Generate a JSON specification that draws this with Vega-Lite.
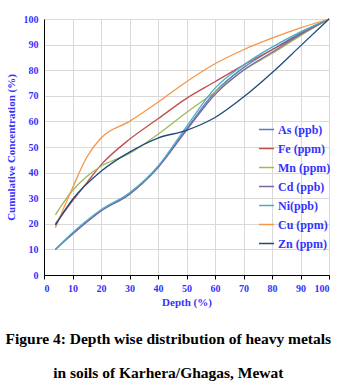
{
  "$schema": "https://vega.github.io/schema/vega-lite/v6.json",
  "width": 285,
  "height": 256,
  "autosize": {"type": "none"},
  "padding": {"left": 44, "top": 19, "right": 27, "bottom": 113},
  "background": "white",
  "title": {
    "text": ["Figure 4: Depth wise distribution  of heavy metals", "in soils of Karhera/Ghagas, Mewat"],
    "orient": "bottom",
    "anchor": "middle",
    "frame": "bounds",
    "font": "Liberation Serif",
    "fontSize": 15.5,
    "fontWeight": "bold",
    "color": "black",
    "lineHeight": 34,
    "offset": 25
  },
  "datasets": {
    "metals": [
      {"metal": "As (ppb)", "depth": 4, "conc": 10},
      {"metal": "As (ppb)", "depth": 10, "conc": 16},
      {"metal": "As (ppb)", "depth": 20, "conc": 25},
      {"metal": "As (ppb)", "depth": 30, "conc": 32},
      {"metal": "As (ppb)", "depth": 40, "conc": 42},
      {"metal": "As (ppb)", "depth": 50, "conc": 57},
      {"metal": "As (ppb)", "depth": 60, "conc": 71.5},
      {"metal": "As (ppb)", "depth": 70, "conc": 81},
      {"metal": "As (ppb)", "depth": 80, "conc": 88},
      {"metal": "As (ppb)", "depth": 90, "conc": 94.5},
      {"metal": "As (ppb)", "depth": 100, "conc": 100},
      {"metal": "Fe (ppm)", "depth": 4, "conc": 20},
      {"metal": "Fe (ppm)", "depth": 10, "conc": 29},
      {"metal": "Fe (ppm)", "depth": 15, "conc": 36},
      {"metal": "Fe (ppm)", "depth": 20, "conc": 43},
      {"metal": "Fe (ppm)", "depth": 30, "conc": 53},
      {"metal": "Fe (ppm)", "depth": 40, "conc": 61},
      {"metal": "Fe (ppm)", "depth": 50, "conc": 69},
      {"metal": "Fe (ppm)", "depth": 60, "conc": 75.5},
      {"metal": "Fe (ppm)", "depth": 70, "conc": 82},
      {"metal": "Fe (ppm)", "depth": 80, "conc": 88},
      {"metal": "Fe (ppm)", "depth": 90, "conc": 94},
      {"metal": "Fe (ppm)", "depth": 100, "conc": 100},
      {"metal": "Mn (ppm)", "depth": 4, "conc": 23.5},
      {"metal": "Mn (ppm)", "depth": 10, "conc": 33},
      {"metal": "Mn (ppm)", "depth": 15, "conc": 38.5},
      {"metal": "Mn (ppm)", "depth": 20, "conc": 42.5},
      {"metal": "Mn (ppm)", "depth": 30, "conc": 47.5},
      {"metal": "Mn (ppm)", "depth": 40, "conc": 55},
      {"metal": "Mn (ppm)", "depth": 50, "conc": 63.5},
      {"metal": "Mn (ppm)", "depth": 60, "conc": 71.5},
      {"metal": "Mn (ppm)", "depth": 70, "conc": 80},
      {"metal": "Mn (ppm)", "depth": 80, "conc": 86.5},
      {"metal": "Mn (ppm)", "depth": 90, "conc": 93.5},
      {"metal": "Mn (ppm)", "depth": 100, "conc": 100},
      {"metal": "Cd (ppb)", "depth": 4, "conc": 10},
      {"metal": "Cd (ppb)", "depth": 10, "conc": 16},
      {"metal": "Cd (ppb)", "depth": 20, "conc": 25},
      {"metal": "Cd (ppb)", "depth": 30, "conc": 31.5},
      {"metal": "Cd (ppb)", "depth": 40, "conc": 42},
      {"metal": "Cd (ppb)", "depth": 50, "conc": 56.5},
      {"metal": "Cd (ppb)", "depth": 60, "conc": 70.5},
      {"metal": "Cd (ppb)", "depth": 70, "conc": 80},
      {"metal": "Cd (ppb)", "depth": 80, "conc": 87},
      {"metal": "Cd (ppb)", "depth": 90, "conc": 94},
      {"metal": "Cd (ppb)", "depth": 100, "conc": 100},
      {"metal": "Ni(ppb)", "depth": 4, "conc": 10},
      {"metal": "Ni(ppb)", "depth": 10, "conc": 16.5},
      {"metal": "Ni(ppb)", "depth": 20, "conc": 25.5},
      {"metal": "Ni(ppb)", "depth": 30, "conc": 32},
      {"metal": "Ni(ppb)", "depth": 40, "conc": 42.5},
      {"metal": "Ni(ppb)", "depth": 50, "conc": 58},
      {"metal": "Ni(ppb)", "depth": 60, "conc": 73},
      {"metal": "Ni(ppb)", "depth": 70, "conc": 82},
      {"metal": "Ni(ppb)", "depth": 80, "conc": 89},
      {"metal": "Ni(ppb)", "depth": 90, "conc": 95},
      {"metal": "Ni(ppb)", "depth": 100, "conc": 100},
      {"metal": "Cu (ppm)", "depth": 4, "conc": 18.5},
      {"metal": "Cu (ppm)", "depth": 10, "conc": 34},
      {"metal": "Cu (ppm)", "depth": 15, "conc": 46},
      {"metal": "Cu (ppm)", "depth": 20, "conc": 53.5},
      {"metal": "Cu (ppm)", "depth": 30, "conc": 60},
      {"metal": "Cu (ppm)", "depth": 40, "conc": 67.5},
      {"metal": "Cu (ppm)", "depth": 50, "conc": 75.5},
      {"metal": "Cu (ppm)", "depth": 60, "conc": 82.5},
      {"metal": "Cu (ppm)", "depth": 70, "conc": 88},
      {"metal": "Cu (ppm)", "depth": 80, "conc": 92.5},
      {"metal": "Cu (ppm)", "depth": 90, "conc": 96.5},
      {"metal": "Cu (ppm)", "depth": 100, "conc": 100},
      {"metal": "Zn (ppm)", "depth": 4, "conc": 19.5},
      {"metal": "Zn (ppm)", "depth": 10, "conc": 29.5},
      {"metal": "Zn (ppm)", "depth": 20, "conc": 40.5},
      {"metal": "Zn (ppm)", "depth": 30, "conc": 48},
      {"metal": "Zn (ppm)", "depth": 40, "conc": 53.5},
      {"metal": "Zn (ppm)", "depth": 50, "conc": 56.5},
      {"metal": "Zn (ppm)", "depth": 60, "conc": 61.5},
      {"metal": "Zn (ppm)", "depth": 70, "conc": 69.5},
      {"metal": "Zn (ppm)", "depth": 80, "conc": 79},
      {"metal": "Zn (ppm)", "depth": 90, "conc": 89.5},
      {"metal": "Zn (ppm)", "depth": 100, "conc": 100}
    ]
  },
  "data": {"name": "metals"},
  "mark": {"type": "line", "interpolate": "monotone", "strokeWidth": 1.3},
  "encoding": {
    "x": {
      "field": "depth", "type": "quantitative", "title": "Depth (%)",
      "scale": {"domain": [0, 100], "nice": false},
      "axis": {"values": [0,10,20,30,40,50,60,70,80,90,100], "tickSize": 4, "labelPadding": 4, "titlePadding": 3}
    },
    "y": {
      "field": "conc", "type": "quantitative", "title": "Cumulative Concentration (%)",
      "scale": {"domain": [0, 100], "nice": false},
      "axis": {"values": [0,10,20,30,40,50,60,70,80,90,100], "tickSize": 0, "labelPadding": 6, "titlePadding": 7}
    },
    "color": {
      "field": "metal", "type": "nominal", "title": null,
      "scale": {
        "domain": ["As (ppb)", "Fe (ppm)", "Mn (ppm)", "Cd (ppb)", "Ni(ppb)", "Cu (ppm)", "Zn (ppm)"],
        "range": ["#4F81BD", "#C0504D", "#9BBB59", "#8064A2", "#4BACC6", "#F79646", "#1F497D"]
      },
      "legend": {
        "orient": "none", "legendX": 214, "legendY": 102,
        "symbolType": "stroke", "symbolSize": 225, "symbolStrokeWidth": 1.5,
        "rowPadding": 4, "labelOffset": 3
      }
    }
  },
  "config": {
    "view": {"stroke": null},
    "axis": {
      "labelFont": "Liberation Serif", "labelFontWeight": "bold", "labelFontSize": 10, "labelColor": "#3333FF",
      "titleFont": "Liberation Serif", "titleFontWeight": "bold", "titleFontSize": 11, "titleColor": "#3333FF",
      "domainColor": "black", "tickColor": "black", "gridColor": "#D9D9D9", "domainWidth": 1
    },
    "legend": {
      "labelFont": "Liberation Serif", "labelFontWeight": "bold", "labelFontSize": 12, "labelColor": "#3333FF"
    }
  }
}
